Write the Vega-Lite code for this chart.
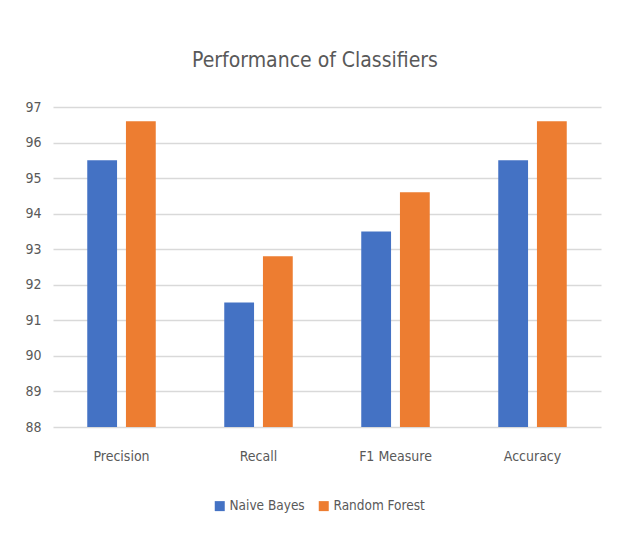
{
  "$schema": "https://vega.github.io/schema/vega-lite/v6.json",
  "width": 548,
  "height": 320,
  "autosize": "none",
  "padding": {"left": 53, "top": 107, "right": 19, "bottom": 108},
  "background": "white",
  "title": {
    "text": "Performance of Classifiers",
    "fontSize": 21,
    "font": "Liberation Sans Narrow, DejaVu Sans Condensed, sans-serif",
    "fontWeight": "normal",
    "color": "#595959",
    "anchor": "middle",
    "dx": -12,
    "offset": 29
  },
  "data": {
    "values": [
      {"metric": "Precision", "classifier": "Naive Bayes", "value": 95.5},
      {"metric": "Precision", "classifier": "Random Forest", "value": 96.6},
      {"metric": "Recall", "classifier": "Naive Bayes", "value": 91.5},
      {"metric": "Recall", "classifier": "Random Forest", "value": 92.8},
      {"metric": "F1 Measure", "classifier": "Naive Bayes", "value": 93.5},
      {"metric": "F1 Measure", "classifier": "Random Forest", "value": 94.6},
      {"metric": "Accuracy", "classifier": "Naive Bayes", "value": 95.5},
      {"metric": "Accuracy", "classifier": "Random Forest", "value": 96.6}
    ]
  },
  "mark": {"type": "bar", "clip": true},
  "encoding": {
    "x": {
      "field": "metric",
      "type": "nominal",
      "sort": ["Precision", "Recall", "F1 Measure", "Accuracy"],
      "scale": {"paddingInner": 0.5, "paddingOuter": 0.25},
      "axis": {"title": null, "labelAngle": 0, "domain": false, "ticks": false, "labelPadding": 22, "labelFontSize": 14, "labelColor": "#595959", "labelFont": "Liberation Sans Narrow, DejaVu Sans Condensed, sans-serif"}
    },
    "xOffset": {
      "field": "classifier",
      "type": "nominal",
      "scale": {"paddingInner": 0.23}
    },
    "y": {
      "field": "value",
      "type": "quantitative",
      "scale": {"domain": [88, 97], "zero": false, "nice": false},
      "axis": {"title": null, "values": [88, 89, 90, 91, 92, 93, 94, 95, 96, 97], "domain": false, "ticks": false, "labelPadding": 12, "labelFontSize": 14, "labelColor": "#595959", "labelFont": "Liberation Sans Narrow, DejaVu Sans Condensed, sans-serif", "gridColor": "#D9D9D9", "gridWidth": 1.5}
    },
    "y2": {"datum": 88},
    "color": {
      "field": "classifier",
      "type": "nominal",
      "scale": {"domain": ["Naive Bayes", "Random Forest"], "range": ["#4472C4", "#ED7D31"]},
      "legend": {
        "title": null,
        "orient": "none",
        "direction": "horizontal",
        "legendX": 160,
        "legendY": 392,
        "symbolType": "square",
        "symbolSize": 100,
        "symbolStrokeWidth": 0,
        "labelFontSize": 13.5,
        "labelColor": "#595959",
        "labelFont": "Liberation Sans Narrow, DejaVu Sans Condensed, sans-serif",
        "columnPadding": 12,
        "labelOffset": 3
      }
    }
  },
  "config": {"view": {"stroke": null}}
}
